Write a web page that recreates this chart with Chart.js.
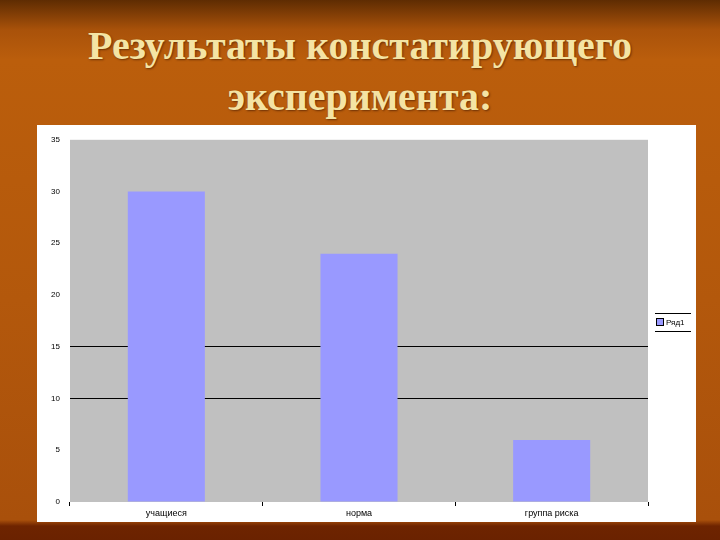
<!DOCTYPE html>
<html>
<head>
<meta charset="utf-8">
<script src="https://cdn.jsdelivr.net/npm/chart.js@4/dist/chart.umd.min.js"></script>
<style>
    html, body {margin: 0; padding: 0;}
    body {
        width: 720px; height: 540px; overflow: hidden; position: relative;
        background: linear-gradient(to bottom, #5e2c02 0px, #a9520a 30px, #bb5e0c 60px, #b3580c 300px, #a9500b 520px, #6e2400 526px, #6a2200 540px);
        font-family: "Liberation Sans", Arial, sans-serif;
    }
    .title {
        position: absolute; left: 0; top: 20px; width: 720px; text-align: center;
        font-family: "Liberation Serif", "Times New Roman", serif; font-weight: bold;
        font-size: 40px; line-height: 51px; color: #f4e4a4;
        text-shadow: 1px 1px 2px rgba(60,20,0,0.6);
    }
    .panel {position: absolute; left: 37px; top: 125px; width: 659px; height: 397px; background: #fff;}
    .legend {
        position: absolute; left: 618px; top: 188px; width: 36px; height: 17px;
        border-top: 1px solid #000; border-bottom: 1px solid #000;
        font-size: 8px; line-height: 17px; color: #000; white-space: nowrap;
    }
    .legend span {display: inline-block; width: 6px; height: 6px; background: #9999ff; border: 1px solid #000; margin: 0 2px 0 1px; vertical-align: -1px;}
</style>
</head>
<body>
<div class="title">Результаты констатирующего<br>эксперимента:</div>
<div class="panel">
    <canvas id="chart" width="659" height="397"></canvas>
    <div class="legend"><span></span>Ряд1</div>
</div>
<script>
const categories = ['учащиеся', 'норма', 'группа риска'];
const seriesName = 'Ряд1';
const values = [30, 24, 6];
const yTicks = [0, 5, 10, 15, 20, 25, 30, 35];
const gridShown = [10, 15];

// серый фон области построения
const plotBg = {
    id: 'plotBg',
    beforeDraw(chart) {
        const a = chart.chartArea;
        const c = chart.ctx;
        c.save();
        c.fillStyle = '#c0c0c0';
        c.fillRect(a.left, a.top, a.right - a.left, a.bottom - a.top);
        c.restore();
    }
};

new Chart(document.getElementById('chart'), {
    type: 'bar',
    data: {
        labels: categories,
        datasets: [{label: seriesName, data: values, backgroundColor: '#9999ff', categoryPercentage: 1, barPercentage: 0.4}]
    },
    options: {
        responsive: false,
        animation: false,
        layout: {padding: {top: 14, right: 48, left: 0, bottom: 0}},
        plugins: {legend: {display: false}, tooltip: {enabled: false}},
        scales: {
            x: {
                grid: {display: true, drawOnChartArea: false, drawTicks: true, tickLength: 4, color: '#000', offset: true},
                border: {display: false},
                ticks: {color: '#000', font: {size: 9, family: 'Liberation Sans'}, padding: 2},
                afterFit: s => { s.height = 20; }
            },
            y: {
                min: 0, max: 35,
                afterBuildTicks: s => { s.ticks = yTicks.map(v => ({value: v})); },
                grid: {
                    drawTicks: false,
                    color: ctx => gridShown.includes(ctx.tick.value) ? '#000' : 'rgba(0,0,0,0)',
                    lineWidth: 1
                },
                border: {display: false},
                ticks: {color: '#000', font: {size: 8, family: 'Liberation Sans'}, padding: 10},
                afterFit: s => { s.width = 33; }
            }
        }
    },
    plugins: [plotBg]
});
</script>
</body>
</html>
